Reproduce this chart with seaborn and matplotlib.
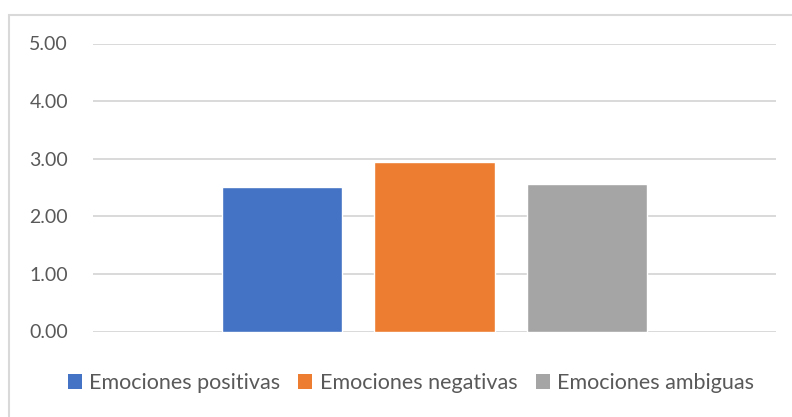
import matplotlib
matplotlib.use("Agg")
import matplotlib.pyplot as plt
from matplotlib.lines import Line2D
from matplotlib.patches import Patch
import seaborn as sns
import pandas as pd

# Mean score per type of emotion
series = ["Emociones positivas", "Emociones negativas", "Emociones ambiguas"]
values = [2.51, 2.94, 2.56]
colors = ["#4472C4", "#ED7D31", "#A5A5A5"]
yticks = [0, 1, 2, 3, 4, 5]

df = pd.DataFrame({"grupo": [""] * len(series), "serie": series, "valor": values})

sns.set_theme(style="white")
plt.rcParams["font.family"] = ["Lato", "DejaVu Sans"]

fig = plt.figure(figsize=(7.92, 4.17), dpi=100)
ax = fig.add_axes([93 / 792, 1 - 331.5 / 417, (776 - 93) / 792, (331.5 - 43.5) / 417])

sns.barplot(data=df, x="grupo", y="valor", hue="serie", hue_order=series,
            palette=colors, width=0.668, gap=0.21, saturation=1,
            errorbar=None, legend=False, ax=ax)

ax.set_xlim(-0.5, 0.5)
ax.set_ylim(0, 5)
ax.set_yticks(yticks)
ax.set_yticklabels([f"{v:.2f}" for v in yticks])
ax.set_xticks([])
ax.set_xlabel("")
ax.set_ylabel("")
ax.tick_params(axis="y", length=0, pad=18, labelsize=14, labelcolor="#595959")
for s in ax.spines.values():
    s.set_visible(False)
ax.yaxis.grid(True, color="#D9D9D9", linewidth=1.4)
ax.set_axisbelow(True)

# Chart frame (top and left edges visible)
frame_kw = dict(color="#D9D9D9", linewidth=1.5, transform=fig.transFigure)
fig.add_artist(Line2D([9 / 792, 1.0], [1 - 15 / 417, 1 - 15 / 417], **frame_kw))
fig.add_artist(Line2D([9 / 792, 9 / 792], [0.0, 1 - 15 / 417], **frame_kw))

handles = [Patch(facecolor=c, edgecolor="none", label=s) for s, c in zip(series, colors)]
fig.legend(handles=handles, loc="center", bbox_to_anchor=(411 / 792, 1 - 383 / 417),
           ncol=3, frameon=False, fontsize=15.5, labelcolor="#595959",
           handlelength=0.65, handleheight=0.7, handletextpad=0.35, columnspacing=0.85)

fig.savefig("out.png", dpi=100, facecolor="white")
